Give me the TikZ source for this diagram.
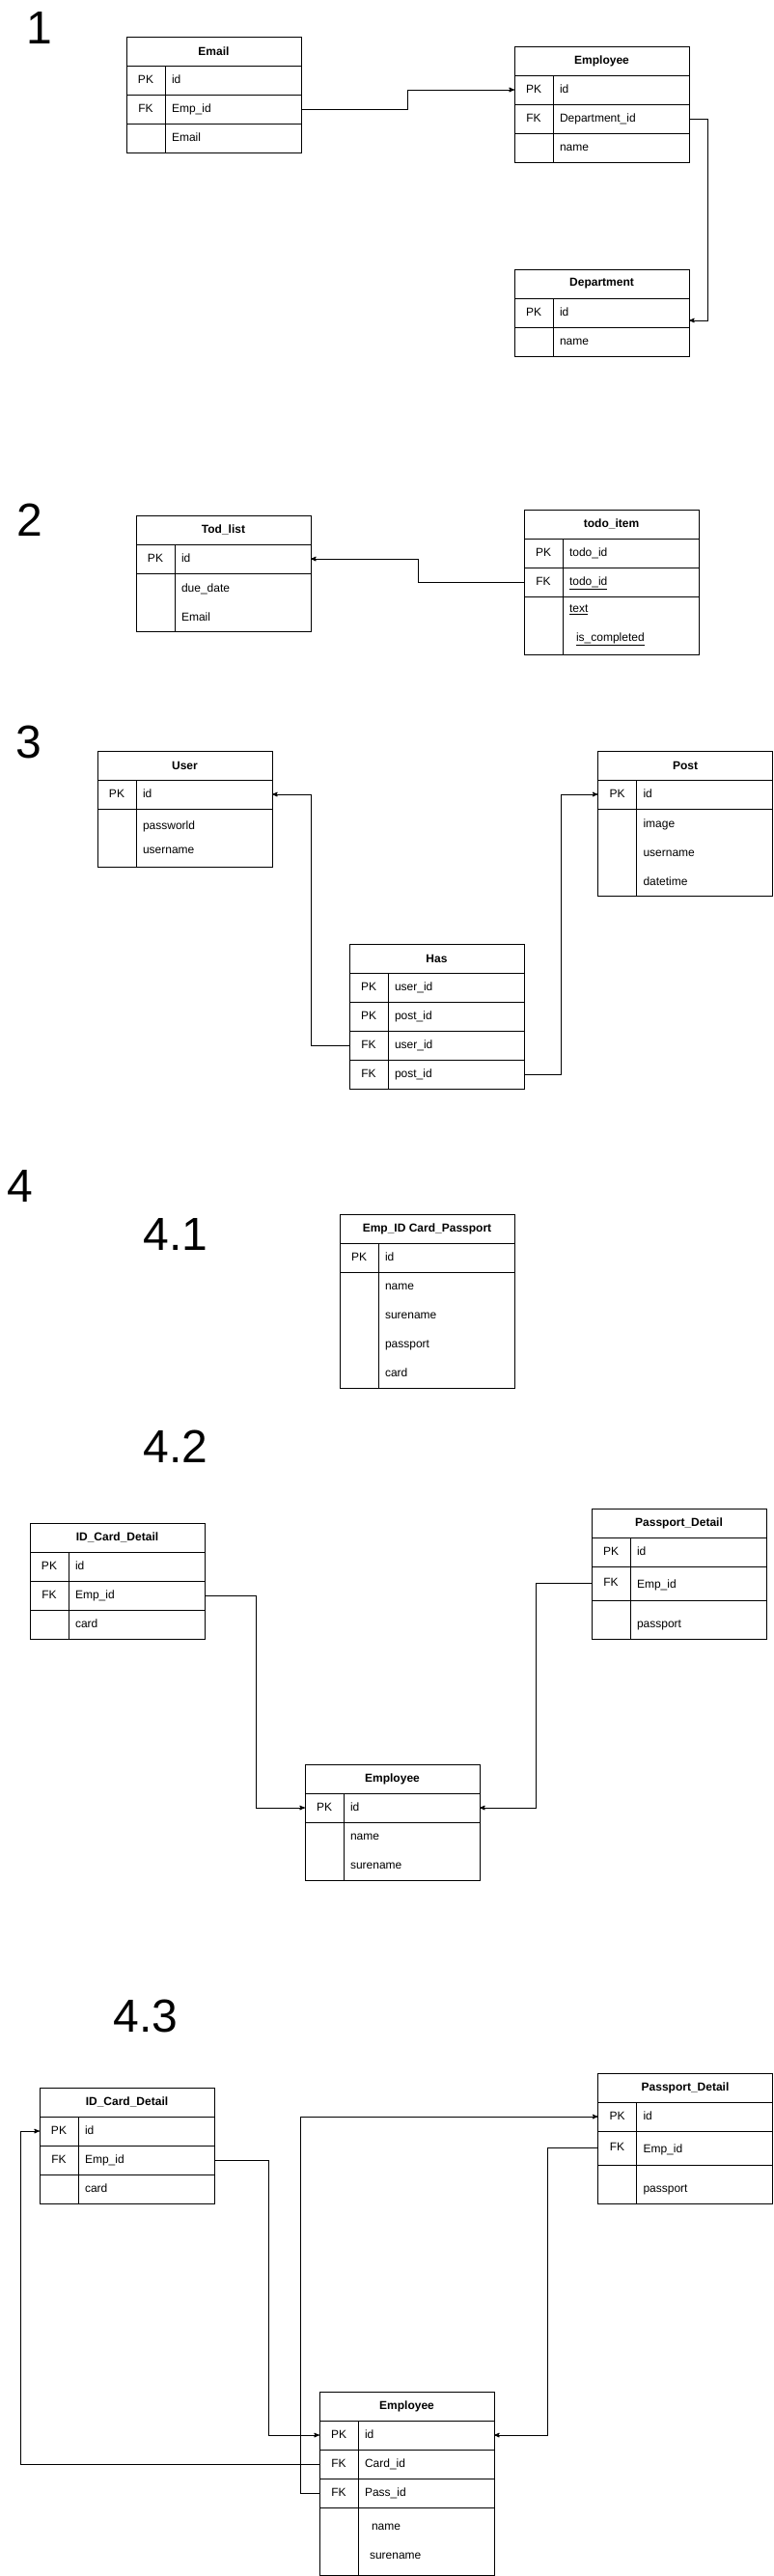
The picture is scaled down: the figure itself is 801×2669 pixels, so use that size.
\documentclass[tikz,border=0pt]{standalone}
\usepackage{fontspec}
\setmainfont{Liberation Sans}
\usetikzlibrary{arrows,shapes,positioning}
\tikzset{
  tbl/.style = {draw=black, line width=1pt, inner sep=0pt, outer sep=0pt,
    font=\fontsize{12}{30}\selectfont},
  tbl_head/.style = {tbl, anchor=north west, minimum width=181pt,
    minimum height=30pt, font=\fontsize{12}{14}\selectfont\bfseries},% nom de la table
  tbl_key/.style = {tbl, minimum width=40pt, minimum height=#1,
    text height=9pt, text depth=3pt},% colonne PK / FK
  tbl_key/.default = 30pt,
  tbl_fld/.style = {tbl, minimum width=141pt, minimum height=#1,
    text width=127pt, align=left, text height=9pt, text depth=3pt},% un champ
  tbl_fld/.default = 30pt,
  tbl_blk/.style = {tbl, minimum width=141pt, minimum height=#1,
    text width=127pt, align=left},% plusieurs champs, sans lignes
  sect/.style = {anchor=base west, inner sep=0pt,
    font=\fontsize{48}{50}\selectfont}% numero de l'exercice
}

\begin{document}
\begin{tikzpicture}[->,>=stealth',x=1pt,y=-1pt,line width=1pt]
\useasboundingbox (0,0) rectangle (801,2669);
\fill[white,-] (0,0) rectangle (801,2669);

% 1
\node[sect] (n1) at (27,45) {1};
\node[tbl_head] (mail) at (131,38) {Email};
\node[tbl_key, below right=0pt and 0pt of mail.south west] (mail-pk) {PK};
\node[tbl_fld, right=0pt of mail-pk] (mail-id) {id};
\node[tbl_key, below=0pt of mail-pk] (mail-fk) {FK};
\node[tbl_fld, right=0pt of mail-fk] (mail-empid) {Emp\_id};
\node[tbl_key, below=0pt of mail-fk] (mail-k3) {};
\node[tbl_fld, right=0pt of mail-k3] (mail-mail) {Email};

\node[tbl_head] (emp) at (533,48) {Employee};
\node[tbl_key, below right=0pt and 0pt of emp.south west] (emp-pk) {PK};
\node[tbl_fld, right=0pt of emp-pk] (emp-id) {id};
\node[tbl_key, below=0pt of emp-pk] (emp-fk) {FK};
\node[tbl_fld, right=0pt of emp-fk] (emp-depid) {Department\_id};
\node[tbl_key, below=0pt of emp-fk] (emp-k3) {};
\node[tbl_fld, right=0pt of emp-k3] (emp-name) {name};

\node[tbl_head] (dep) at (533,279) {Department};
\node[tbl_key, below right=0pt and 0pt of dep.south west] (dep-pk) {PK};
\node[tbl_fld, right=0pt of dep-pk] (dep-id) {id};
\node[tbl_key, below=0pt of dep-pk] (dep-k2) {};
\node[tbl_fld, right=0pt of dep-k2] (dep-name) {name};

\draw (mail-empid.east) -- ++(110,0) |- (emp-pk.west);
\draw (emp-depid.east) -- ++(19,0) |- ([yshift=-8pt]dep-id.east);

% 2
\node[sect] (n2) at (16.6,555) {2};
\node[tbl_head] (tod) at (141,534) {Tod\_list};
\node[tbl_key, below right=0pt and 0pt of tod.south west] (tod-pk) {PK};
\node[tbl_fld, right=0pt of tod-pk] (tod-id) {id};
\node[tbl_key=60pt, below=0pt of tod-pk] (tod-k2) {};
\node[tbl_blk=60pt, right=0pt of tod-k2] (tod-rest) {due\_date\\Email};

\node[tbl_head] (todo) at (543,528) {todo\_item};
\node[tbl_key, below right=0pt and 0pt of todo.south west] (todo-pk) {PK};
\node[tbl_fld, right=0pt of todo-pk] (todo-id) {todo\_id};
\node[tbl_key, below=0pt of todo-pk] (todo-fk) {FK};
\node[tbl_fld, right=0pt of todo-fk] (todo-listid) {\underline{todo\_id}};
\node[tbl_key=60pt, below=0pt of todo-fk] (todo-k3) {};
\node[tbl_blk=60pt, right=0pt of todo-k3] (todo-rest)
  {\underline{text}\\\hspace*{7pt}\underline{is\_completed}};

\draw (todo-fk.west) -- ++(-110,0) |- (tod-id.east);

% 3
\node[sect] (n3) at (16,785) {3};
\node[tbl_head] (user) at (101,778) {User};
\node[tbl_key, below right=0pt and 0pt of user.south west] (user-pk) {PK};
\node[tbl_fld, right=0pt of user-pk] (user-id) {id};
\node[tbl_key=60pt, below=0pt of user-pk] (user-k2) {};
\node[tbl_blk=60pt, right=0pt of user-k2, font=\fontsize{12}{25}\selectfont]
  (user-rest) {passworld\\username};

\node[tbl_head] (post) at (619.5,778) {Post};
\node[tbl_key, below right=0pt and 0pt of post.south west] (post-pk) {PK};
\node[tbl_fld, right=0pt of post-pk] (post-id) {id};
\node[tbl_key=90pt, below=0pt of post-pk] (post-k2) {};
\node[tbl_blk=90pt, right=0pt of post-k2] (post-rest) {image\\username\\datetime};

\node[tbl_head] (has) at (362,978) {Has};
\node[tbl_key, below right=0pt and 0pt of has.south west] (has-pk1) {PK};
\node[tbl_fld, right=0pt of has-pk1] (has-userid1) {user\_id};
\node[tbl_key, below=0pt of has-pk1] (has-pk2) {PK};
\node[tbl_fld, right=0pt of has-pk2] (has-postid1) {post\_id};
\node[tbl_key, below=0pt of has-pk2] (has-fk1) {FK};
\node[tbl_fld, right=0pt of has-fk1] (has-userid2) {user\_id};
\node[tbl_key, below=0pt of has-fk1] (has-fk2) {FK};
\node[tbl_fld, right=0pt of has-fk2] (has-postid2) {post\_id};

\draw (has-fk1.west) -- ++(-40,0) |- (user-id.east);
\draw (has-postid2.east) -- ++(38,0) |- (post-pk.west);

% 4
\node[sect] (n4) at (7.4,1245) {4};

% 4.1
\node[sect] (n41) at (148.4,1295) {4.1};
\node[tbl_head] (all) at (352,1258) {Emp\_ID Card\_Passport};
\node[tbl_key, below right=0pt and 0pt of all.south west] (all-pk) {PK};
\node[tbl_fld, right=0pt of all-pk] (all-id) {id};
\node[tbl_key=120pt, below=0pt of all-pk] (all-k2) {};
\node[tbl_blk=120pt, right=0pt of all-k2] (all-rest)
  {name\\surename\\passport\\card};

% 4.2
\node[sect] (n42) at (148.4,1515) {4.2};
\node[tbl_head] (card) at (31,1578) {ID\_Card\_Detail};
\node[tbl_key, below right=0pt and 0pt of card.south west] (card-pk) {PK};
\node[tbl_fld, right=0pt of card-pk] (card-id) {id};
\node[tbl_key, below=0pt of card-pk] (card-fk) {FK};
\node[tbl_fld, right=0pt of card-fk] (card-empid) {Emp\_id};
\node[tbl_key, below=0pt of card-fk] (card-k3) {};
\node[tbl_fld, right=0pt of card-k3] (card-card) {card};

\node[tbl_head] (pass) at (613,1563) {Passport\_Detail};
\node[tbl_key, below right=0pt and 0pt of pass.south west] (pass-pk) {PK};
\node[tbl_fld, right=0pt of pass-pk] (pass-id) {id};
\node[tbl_key=35pt, below=0pt of pass-pk] (pass-fk) {FK};
\node[tbl_fld=35pt, text height=13pt, right=0pt of pass-fk] (pass-empid) {Emp\_id};
\node[tbl_key=40pt, below=0pt of pass-fk] (pass-k3) {};
\node[tbl_fld=40pt, text height=19pt, right=0pt of pass-k3] (pass-pass) {passport};

\node[tbl_head] (emp2) at (316,1828) {Employee};
\node[tbl_key, below right=0pt and 0pt of emp2.south west] (emp2-pk) {PK};
\node[tbl_fld, right=0pt of emp2-pk] (emp2-id) {id};
\node[tbl_key=60pt, below=0pt of emp2-pk] (emp2-k2) {};
\node[tbl_blk=60pt, right=0pt of emp2-k2] (emp2-rest) {name\\surename};

\draw (card-empid.east) -- ++(53,0) |- (emp2-pk.west);
\draw (pass-fk.west) -- ++(-58,0) |- (emp2-id.east);

% 4.3
\node[sect] (n43) at (117.4,2105) {4.3};
\node[tbl_head] (card3) at (41,2163) {ID\_Card\_Detail};
\node[tbl_key, below right=0pt and 0pt of card3.south west] (card3-pk) {PK};
\node[tbl_fld, right=0pt of card3-pk] (card3-id) {id};
\node[tbl_key, below=0pt of card3-pk] (card3-fk) {FK};
\node[tbl_fld, right=0pt of card3-fk] (card3-empid) {Emp\_id};
\node[tbl_key, below=0pt of card3-fk] (card3-k3) {};
\node[tbl_fld, right=0pt of card3-k3] (card3-card) {card};

\node[tbl_head] (pass3) at (619.5,2148) {Passport\_Detail};
\node[tbl_key, below right=0pt and 0pt of pass3.south west] (pass3-pk) {PK};
\node[tbl_fld, right=0pt of pass3-pk] (pass3-id) {id};
\node[tbl_key=35pt, below=0pt of pass3-pk] (pass3-fk) {FK};
\node[tbl_fld=35pt, text height=13pt, right=0pt of pass3-fk] (pass3-empid) {Emp\_id};
\node[tbl_key=40pt, below=0pt of pass3-fk] (pass3-k3) {};
\node[tbl_fld=40pt, text height=19pt, right=0pt of pass3-k3] (pass3-pass) {passport};

\node[tbl_head] (emp3) at (331,2478) {Employee};
\node[tbl_key, below right=0pt and 0pt of emp3.south west] (emp3-pk) {PK};
\node[tbl_fld, right=0pt of emp3-pk] (emp3-id) {id};
\node[tbl_key, below=0pt of emp3-pk] (emp3-fk1) {FK};
\node[tbl_fld, right=0pt of emp3-fk1] (emp3-cardid) {Card\_id};
\node[tbl_key, below=0pt of emp3-fk1] (emp3-fk2) {FK};
\node[tbl_fld, right=0pt of emp3-fk2] (emp3-passid) {Pass\_id};
\node[tbl_key=70pt, below=0pt of emp3-fk2] (emp3-k4) {};
\node[tbl_blk=70pt, right=0pt of emp3-k4] (emp3-rest)
  {\hspace*{7pt}name\\\hspace*{5pt}surename};

\draw (card3-empid.east) -- ++(56,0) |- (emp3-pk.west);
\draw (pass3-fk.west) -- ++(-52,0) |- (emp3-id.east);
\draw (emp3-fk1.west) -- ++(-310,0) |- (card3-pk.west);
\draw (emp3-fk2.west) -- ++(-20,0) |- (pass3-pk.west);
\end{tikzpicture}
\end{document}
